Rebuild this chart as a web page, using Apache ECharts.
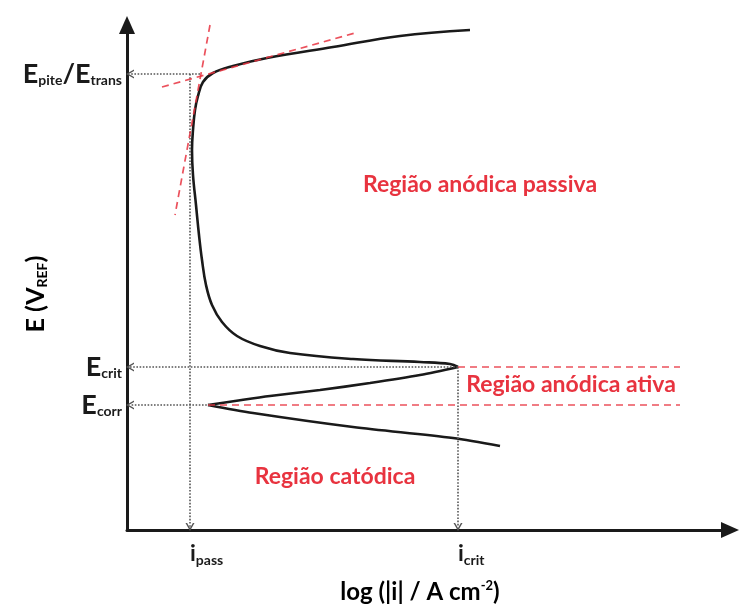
<!DOCTYPE html>
<html><head><meta charset="utf-8">
<script src="https://cdn.jsdelivr.net/npm/echarts@6/dist/echarts.min.js"></script>
<style>html,body{margin:0;padding:0;background:#fff}#c{width:742px;height:612px}</style>
</head><body><div id="c"></div>
<script>
// Schematic units: x = distance right of the E axis, y = height above the log|i| axis
const passiveBranch = [[343,500],[273,494],[206,483],[140,472],[106,464],[86,457],[76,448],[71,434],[68,420],[66,400],[65,380],[66,355],[69,325],[72,295],[75,270],[79,245],[85,225],[95,208],[110,194],[133,184],[163,177],[226,171],[293,168],[323,166],[331,163]];
const activeBranch = [[331,163],[293,155],[243,147],[193,140],[143,134],[108,129],[81,125]];
const cathodicBranch = [[81,125],[126,117],[226,103],[326,92],[373,84]];
const tangentFlat = [[35,443],[228,497]];
const tangentSteep = [[83,505],[48,315]];
const levelEpite = 456, levelEcrit = 163, levelEcorr = 125;
const posIpass = 63, posIcrit = 331;
const activeBandEnd = 553;
const yTickValues = [levelEcorr, levelEcrit, levelEpite];
const yTickLabels = ['{E|E}{s|corr}', '{E|E}{s|crit}', '{E|E}{s|pite}{E|/E}{s|trans}'];
const xTickValues = [posIpass, posIcrit];
const xTickLabels = ['{i|i}{s|pass}', '{i|i}{s|crit}'];

const FONT = 'Lato';
const INK = '#1a1a1a';
const RED = '#e8333f';
const richBase = {
  E: {fontFamily: FONT, fontWeight: 'bold', fontSize: 27, color: INK},
  i: {fontFamily: FONT, fontWeight: 'bold', fontSize: 23, color: INK},
  s: {fontFamily: FONT, fontWeight: 'bold', fontSize: 14, color: INK, padding: [13, 0, 0, 0]}
};
const chevron = 'path://M0,10 L5,0 L10,10 L8.2,10 L5,3.6 L1.8,10 Z';

function dotted(a, b) {
  return [{coord: a, symbol: 'none'}, {coord: b, symbol: chevron, symbolSize: [9, 8]}];
}
function dashed(a, b) {
  return [{coord: a}, {coord: b}];
}

const chart = echarts.init(document.getElementById('c'), null, {renderer: 'canvas'});
chart.setOption({
  animation: false,
  backgroundColor: '#fff',
  grid: {left: 127, right: 12, top: 25, bottom: 82, containLabel: false},
  xAxis: {
    type: 'value', min: 0, max: 603,
    splitLine: {show: false},
    axisTick: {show: false},
    axisLine: {show: true, lineStyle: {color: INK, width: 3}, symbol: ['none', 'triangle'], symbolSize: [16, 18]},
    axisLabel: {
      customValues: xTickValues,
      formatter: v => xTickLabels[xTickValues.indexOf(v)],
      margin: 10, align: 'left',
      rich: richBase
    }
  },
  yAxis: {
    type: 'value', min: 0, max: 505,
    splitLine: {show: false},
    axisTick: {show: false},
    axisLine: {show: true, lineStyle: {color: INK, width: 3}, symbol: ['none', 'triangle'], symbolSize: [16, 18]},
    axisLabel: {
      customValues: yTickValues,
      formatter: v => yTickLabels[yTickValues.indexOf(v)],
      margin: 5,
      rich: richBase
    }
  },
  graphic: [
    {type: 'text', x: 36, y: 294, rotation: Math.PI / 2,
      style: {text: '{b|E (V}{s|REF}{b|)}', align: 'center', verticalAlign: 'middle',
        rich: {b: {fontFamily: FONT, fontWeight: 'bold', fontSize: 25, color: INK},
               s: {fontFamily: FONT, fontWeight: 'bold', fontSize: 14, color: INK, padding: [12, 0, 0, 0]}}}},
    {type: 'text', x: 420, y: 592,
      style: {text: '{b|log (|i| / A cm}{p|-2}{b|)}', align: 'center', verticalAlign: 'middle',
        rich: {b: {fontFamily: FONT, fontWeight: 'bold', fontSize: 24, color: INK},
               p: {fontFamily: FONT, fontWeight: 'bold', fontSize: 13, color: INK, padding: [0, 0, 12, 0]}}}},
    {type: 'text', x: 480, y: 185, style: {text: 'Região anódica passiva', align: 'center', verticalAlign: 'middle', fontFamily: FONT, fontWeight: 'bold', fontSize: 23, fill: RED}},
    {type: 'text', x: 571, y: 385, style: {text: 'Região anódica ativa', align: 'center', verticalAlign: 'middle', fontFamily: FONT, fontWeight: 'bold', fontSize: 23, fill: RED}},
    {type: 'text', x: 335, y: 477, style: {text: 'Região catódica', align: 'center', verticalAlign: 'middle', fontFamily: FONT, fontWeight: 'bold', fontSize: 23, fill: RED}}
  ],
  series: [
    {
      name: 'guides', type: 'line', data: [], silent: true,
      markLine: {
        silent: true, animation: false,
        label: {show: false},
        lineStyle: {color: '#555', width: 1.6, type: 'dotted'},
        data: [
          dotted([posIpass, levelEpite], [posIpass, 3]),
          dotted([posIcrit, levelEcrit], [posIcrit, 3]),
          dotted([posIpass + 10, levelEpite], [3, levelEpite]),
          dotted([posIcrit, levelEcrit], [3, levelEcrit]),
          dotted([activeBranch[activeBranch.length - 1][0] + 2, levelEcorr], [3, levelEcorr])
        ]
      }
    },
    {
      name: 'tangents', type: 'line', data: [], silent: true,
      markLine: {
        silent: true, animation: false, symbol: 'none',
        label: {show: false},
        lineStyle: {color: RED, width: 1.7, type: [7, 5], opacity: 0.85},
        data: [
          dashed(tangentFlat[0], tangentFlat[1]),
          dashed(tangentSteep[0], tangentSteep[1]),
          dashed([posIcrit, levelEcrit], [activeBandEnd, levelEcrit]),
          dashed([activeBranch[activeBranch.length - 1][0], levelEcorr], [activeBandEnd, levelEcorr])
        ]
      }
    },
    {name: 'passive', type: 'line', data: passiveBranch, smooth: 0.4, showSymbol: false, lineStyle: {color: INK, width: 2.6}},
    {name: 'active', type: 'line', data: activeBranch, smooth: 0.3, showSymbol: false, lineStyle: {color: INK, width: 2.6}},
    {name: 'cathodic', type: 'line', data: cathodicBranch, smooth: 0.3, showSymbol: false, lineStyle: {color: INK, width: 2.6}}
  ]
});
</script>
</body></html>
